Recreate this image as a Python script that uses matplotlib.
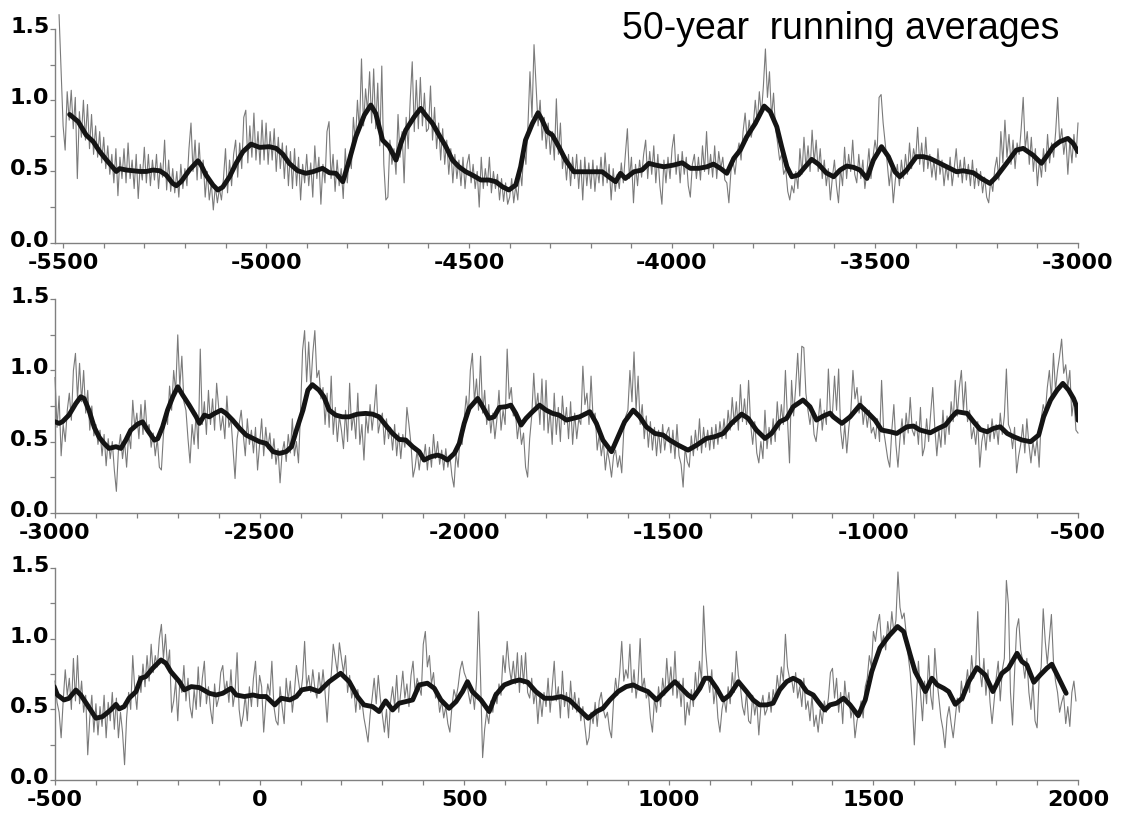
import numpy as np
import matplotlib
matplotlib.use('Agg')
from matplotlib import pyplot as plt
from matplotlib.ticker import MultipleLocator
from matplotlib.transforms import ScaledTranslation

plt.rcParams['axes.unicode_minus'] = False
plt.rcParams['font.family'] = 'DejaVu Sans'

# ---- panel 1 : -5510 .. -3000, annual series sampled every 5 years ----
gray1_start = -5510
gray1 = [
    1.60, 1.20,
    0.82, 0.65, 1.06, 0.86, 1.07, 0.80, 1.02, 0.45, 0.92, 0.74, 1.00, 0.72, 0.97, 0.66, 0.90, 0.62, 0.82, 0.60, 0.78, 0.56,  # -5500
    0.74, 0.52, 0.68, 0.48, 0.62, 0.42, 0.66, 0.33, 0.60, 0.45, 0.66, 0.42, 0.70, 0.45, 0.58, 0.38, 0.62, 0.31, 0.55, 0.44,  # -5400
    0.67, 0.42, 0.62, 0.40, 0.58, 0.44, 0.62, 0.38, 0.56, 0.46, 0.72, 0.37, 0.58, 0.36, 0.52, 0.35, 0.50, 0.32, 0.55, 0.38,  # -5300
    0.52, 0.40, 0.66, 0.84, 0.50, 0.72, 0.44, 0.70, 0.45, 0.58, 0.32, 0.50, 0.30, 0.42, 0.23, 0.40, 0.28, 0.38, 0.30, 0.45,  # -5200
    0.66, 0.35, 0.58, 0.40, 0.62, 0.72, 0.46, 0.70, 0.52, 0.88, 0.93, 0.56, 0.82, 0.60, 0.91, 0.58, 0.78, 0.55, 0.86, 0.58,  # -5100
    0.84, 0.55, 0.78, 0.58, 0.80, 0.50, 0.74, 0.52, 0.70, 0.45, 0.68, 0.40, 0.64, 0.38, 0.66, 0.40, 0.60, 0.30, 0.55, 0.42,  # -5000
    0.62, 0.40, 0.56, 0.32, 0.68, 0.45, 0.60, 0.27, 0.55, 0.42, 0.78, 0.85, 0.45, 0.62, 0.36, 0.58, 0.40, 0.52, 0.31, 0.66,  # -4900
    0.42, 0.62, 0.52, 0.88, 0.70, 1.00, 0.78, 1.29, 0.82, 1.08, 0.92, 1.20, 0.84, 1.22, 0.80, 1.12, 0.68, 1.24, 0.55, 0.30,  # -4800
    0.32, 0.72, 0.55, 0.66, 0.48, 0.90, 0.60, 0.78, 0.42, 0.88, 0.66, 1.00, 1.27, 0.78, 1.14, 0.80, 1.16, 0.82, 1.05, 0.78,  # -4700
    0.80, 1.10, 0.72, 0.95, 0.66, 0.84, 0.58, 0.80, 0.55, 0.72, 0.48, 0.66, 0.42, 0.62, 0.45, 0.58, 0.40, 0.60, 0.38, 0.55,  # -4600
    0.62, 0.42, 0.55, 0.38, 0.50, 0.25, 0.60, 0.38, 0.52, 0.40, 0.60, 0.35, 0.50, 0.38, 0.48, 0.30, 0.45, 0.29, 0.42, 0.27,  # -4500
    0.32, 0.45, 0.28, 0.40, 0.30, 0.52, 0.40, 0.68, 0.55, 0.82, 1.20, 0.88, 1.39, 1.10, 0.82, 1.00, 0.72, 0.88, 0.66, 0.84,  # -4400
    0.62, 0.78, 0.58, 1.01, 0.62, 0.84, 0.52, 0.62, 0.44, 0.62, 0.40, 0.60, 0.45, 0.62, 0.38, 0.58, 0.30, 0.60, 0.40, 0.56,  # -4300
    0.38, 0.58, 0.36, 0.54, 0.42, 0.60, 0.40, 0.63, 0.42, 0.55, 0.30, 0.52, 0.36, 0.48, 0.38, 0.56, 0.42, 0.62, 0.80, 0.45,  # -4200
    0.60, 0.28, 0.55, 0.40, 0.58, 0.46, 0.62, 0.72, 0.45, 0.64, 0.48, 0.68, 0.42, 0.62, 0.40, 0.27, 0.58, 0.42, 0.60, 0.45,  # -4100
    0.66, 0.76, 0.48, 0.62, 0.42, 0.64, 0.48, 0.60, 0.40, 0.32, 0.55, 0.62, 0.45, 0.60, 0.44, 0.68, 0.50, 0.78, 0.48, 0.62,  # -4000
    0.46, 0.68, 0.45, 0.64, 0.52, 0.60, 0.44, 0.42, 0.28, 0.50, 0.58, 0.48, 0.62, 0.70, 0.58, 0.78, 0.91, 0.72, 0.86, 0.74,  # -3900
    0.82, 1.00, 0.84, 1.06, 0.90, 1.10, 1.36, 1.02, 1.20, 0.88, 1.05, 0.80, 0.70, 0.58, 0.62, 0.48, 0.52, 0.36, 0.30, 0.40,  # -3800
    0.35, 0.50, 0.38, 0.66, 0.48, 0.74, 0.52, 0.68, 0.50, 0.79, 0.56, 0.72, 0.50, 0.66, 0.45, 0.58, 0.40, 0.52, 0.30, 0.46,  # -3700
    0.58, 0.40, 0.28, 0.52, 0.40, 0.67, 0.45, 0.62, 0.50, 0.72, 0.48, 0.42, 0.62, 0.45, 0.58, 0.38, 0.50, 0.66, 0.45, 0.60,  # -3600
    0.72, 0.62, 1.02, 1.04, 0.84, 0.70, 0.56, 0.40, 0.52, 0.28, 0.44, 0.55, 0.40, 0.58, 0.45, 0.62, 0.48, 0.70, 0.52, 0.66,  # -3500
    0.58, 0.81, 0.55, 0.70, 0.50, 0.74, 0.52, 0.62, 0.46, 0.58, 0.44, 0.66, 0.48, 0.58, 0.40, 0.54, 0.44, 0.60, 0.40, 0.52,  # -3400
    0.66, 0.46, 0.58, 0.42, 0.60, 0.44, 0.55, 0.40, 0.58, 0.38, 0.52, 0.40, 0.50, 0.35, 0.46, 0.32, 0.28, 0.44, 0.36, 0.52,  # -3300
    0.60, 0.44, 0.78, 0.56, 0.86, 0.60, 0.76, 0.55, 0.72, 0.52, 0.70, 0.62, 0.80, 1.02, 0.66, 0.78, 0.55, 0.74, 0.50, 0.66,  # -3200
    0.40, 0.58, 0.46, 0.66, 0.50, 0.76, 0.56, 0.70, 0.60, 0.78, 1.02, 0.70, 0.80, 0.62, 0.74, 0.48, 0.72, 0.56, 0.76, 0.60,  # -3100
    0.84,
]
run1_years = [-5484, -5463, -5443, -5426, -5410, -5393, -5369, -5361, -5344, -5328, -5311, -5295, -5279, -5262,
              -5246, -5230, -5221, -5209, -5189, -5168, -5160, -5148, -5131, -5119, -5107, -5090, -5074, -5057,
              -5037, -5016, -4992, -4975, -4959, -4943, -4922, -4902, -4885, -4861, -4844, -4828, -4811, -4795,
              -4779, -4758, -4742, -4730, -4713, -4697, -4680, -4668, -4656, -4635, -4619, -4607, -4590, -4574,
              -4557, -4541, -4525, -4508, -4492, -4471, -4451, -4434, -4418, -4402, -4385, -4373, -4361, -4344,
              -4330, -4320, -4307, -4295, -4279, -4262, -4242, -4217, -4193, -4172, -4156, -4139, -4127, -4115,
              -4094, -4074, -4057, -4041, -4020, -3996, -3975, -3955, -3934, -3914, -3898, -3881, -3865, -3848,
              -3832, -3816, -3795, -3773, -3758, -3742, -3730, -3717, -3705, -3689, -3672, -3656, -3639, -3620,
              -3602, -3586, -3570, -3553, -3537, -3520, -3504, -3484, -3467, -3451, -3439, -3422, -3398, -3381,
              -3365, -3340, -3316, -3299, -3283, -3258, -3238, -3217, -3201, -3176, -3152, -3135, -3111, -3090,
              -3078, -3061, -3045, -3025, -3012, -3000]
run1 = [0.90, 0.85, 0.755, 0.71, 0.64, 0.58, 0.50, 0.52, 0.51, 0.505, 0.50, 0.50, 0.51, 0.505,
        0.475, 0.416, 0.40, 0.43, 0.51, 0.575, 0.545, 0.475, 0.405, 0.37, 0.39, 0.463, 0.557, 0.639,
        0.692, 0.669, 0.674, 0.662, 0.622, 0.557, 0.505, 0.487, 0.498, 0.522, 0.491, 0.487, 0.428, 0.58,
        0.744, 0.896, 0.966, 0.908, 0.72, 0.674, 0.58, 0.697, 0.79, 0.884, 0.943, 0.896, 0.837, 0.756,
        0.674, 0.58, 0.533, 0.498, 0.475, 0.44, 0.44, 0.428, 0.393, 0.37, 0.405, 0.533, 0.72, 0.837,
        0.912, 0.861, 0.779, 0.756, 0.674, 0.58, 0.498, 0.498, 0.498, 0.498, 0.463, 0.428, 0.487, 0.451,
        0.498, 0.51, 0.557, 0.545, 0.533, 0.545, 0.561, 0.522, 0.522, 0.533, 0.552, 0.522, 0.487, 0.592,
        0.65, 0.744, 0.837, 0.959, 0.919, 0.814, 0.674, 0.533, 0.463, 0.475, 0.533, 0.585, 0.55, 0.49,
        0.463, 0.51, 0.538, 0.529, 0.51, 0.451, 0.58, 0.674, 0.604, 0.498, 0.463, 0.51, 0.604, 0.604,
        0.592, 0.557, 0.522, 0.498, 0.505, 0.491, 0.451, 0.416, 0.463, 0.557, 0.65, 0.662, 0.615, 0.557,
        0.604, 0.674, 0.709, 0.732, 0.697, 0.639]

# ---- panel 2 : -3000 .. -500 ----
gray2_start = -3000
gray2 = [
    0.95, 0.60, 0.82, 0.40, 0.62, 0.50, 0.72, 0.84, 0.65, 1.00, 1.12, 0.80, 1.05, 0.78, 1.00, 0.70, 0.86, 0.58, 0.75, 0.54,  # -3000
    0.62, 0.48, 0.58, 0.40, 0.55, 0.33, 0.52, 0.38, 0.50, 0.30, 0.15, 0.44, 0.55, 0.38, 0.50, 0.32, 0.55, 0.45, 0.79, 0.60,  # -2900
    0.70, 0.52, 0.76, 0.55, 0.79, 0.58, 0.62, 0.46, 0.56, 0.40, 0.52, 0.32, 0.30, 0.55, 0.70, 0.62, 0.89, 0.72, 1.00, 0.85,  # -2800
    1.25, 0.88, 1.10, 0.78, 0.72, 0.52, 0.35, 0.62, 0.48, 0.70, 0.45, 1.15, 0.62, 0.78, 0.55, 0.86, 0.62, 0.80, 0.58, 0.91,  # -2700
    0.74, 0.58, 0.68, 0.52, 0.82, 0.60, 0.66, 0.45, 0.24, 0.52, 0.62, 0.72, 0.55, 0.40, 0.66, 0.48, 0.58, 0.42, 0.60, 0.30,  # -2600
    0.48, 0.66, 0.40, 0.60, 0.45, 0.56, 0.38, 0.52, 0.34, 0.45, 0.21, 0.42, 0.50, 0.36, 0.55, 0.42, 0.66, 0.40, 0.50, 0.35,  # -2500
    0.70, 1.14, 1.28, 0.92, 1.20, 0.88, 1.12, 1.28, 0.95, 1.00, 0.80, 0.88, 0.62, 0.84, 0.60, 0.96, 0.55, 0.74, 0.50, 0.68,  # -2400
    0.58, 0.45, 0.72, 0.50, 0.91, 0.58, 0.70, 0.52, 0.84, 0.48, 0.62, 0.37, 0.68, 0.56, 0.76, 0.58, 0.72, 0.90, 0.56, 0.64,  # -2300
    0.70, 0.48, 0.66, 0.52, 0.60, 0.44, 0.62, 0.40, 0.56, 0.38, 0.55, 0.46, 0.74, 0.62, 0.48, 0.25, 0.32, 0.44, 0.30, 0.42,  # -2200
    0.36, 0.48, 0.30, 0.46, 0.32, 0.55, 0.38, 0.50, 0.34, 0.44, 0.30, 0.45, 0.32, 0.40, 0.26, 0.18, 0.42, 0.32, 0.54, 0.48,  # -2100
    0.66, 0.82, 0.68, 1.00, 1.12, 0.78, 0.94, 0.72, 1.10, 0.70, 0.86, 0.62, 0.76, 0.56, 0.70, 0.52, 0.66, 0.86, 0.58, 0.72,  # -2000
    0.62, 1.15, 0.80, 0.88, 0.68, 0.72, 0.52, 0.64, 0.48, 0.56, 0.32, 0.25, 0.52, 0.68, 0.98, 0.72, 0.84, 0.62, 0.94, 0.58,  # -1900
    0.93, 0.56, 0.72, 0.48, 0.84, 0.55, 0.74, 0.50, 0.82, 0.62, 0.74, 0.52, 0.78, 0.48, 0.70, 0.52, 0.66, 0.62, 1.03, 0.76,  # -1800
    0.84, 0.62, 0.96, 0.66, 0.70, 0.44, 0.55, 0.40, 0.50, 0.30, 0.44, 0.36, 0.25, 0.40, 0.44, 0.32, 0.40, 0.28, 0.58, 0.68,  # -1700
    0.72, 1.00, 0.78, 1.13, 0.72, 0.96, 0.62, 0.76, 0.52, 0.68, 0.46, 0.64, 0.44, 0.60, 0.40, 0.58, 0.42, 0.62, 0.44, 0.56,  # -1600
    0.60, 0.42, 0.58, 0.38, 0.62, 0.40, 0.34, 0.18, 0.46, 0.36, 0.32, 0.54, 0.40, 0.58, 0.44, 0.66, 0.42, 0.60, 0.46, 0.58,  # -1500
    0.44, 0.60, 0.45, 0.62, 0.48, 0.64, 0.52, 0.66, 0.52, 0.72, 0.58, 0.81, 0.62, 0.78, 0.58, 0.90, 0.64, 0.80, 0.62, 0.93,  # -1400
    0.62, 0.48, 0.64, 0.42, 0.35, 0.50, 0.38, 0.72, 0.45, 0.60, 0.48, 0.66, 0.50, 0.78, 0.58, 0.76, 0.62, 1.00, 0.66, 0.35,  # -1300
    0.93, 0.68, 0.88, 1.12, 0.82, 1.17, 1.16, 0.84, 0.72, 0.62, 0.74, 0.55, 0.50, 0.64, 0.80, 0.58, 0.72, 0.62, 1.01, 0.70,  # -1200
    0.70, 0.96, 0.72, 1.01, 0.58, 0.45, 0.62, 0.42, 0.60, 0.72, 1.00, 0.80, 0.88, 0.70, 0.82, 0.62, 0.74, 0.60, 0.72, 0.56,  # -1100
    0.60, 0.52, 0.66, 0.50, 0.93, 0.58, 0.48, 0.38, 0.32, 0.58, 0.76, 0.48, 0.32, 0.52, 0.66, 0.48, 0.70, 0.56, 0.81, 0.58,  # -1000
    0.54, 0.64, 0.48, 0.74, 0.40, 0.46, 0.66, 0.50, 0.70, 0.88, 0.60, 0.40, 0.58, 0.46, 0.72, 0.48, 0.68, 0.55, 0.78, 0.64,  # -900
    0.93, 0.68, 0.88, 1.00, 0.72, 0.92, 0.64, 0.72, 0.52, 0.60, 0.48, 0.64, 0.32, 0.50, 0.58, 0.44, 0.62, 0.50, 0.66, 0.52,  # -800
    0.62, 0.48, 0.70, 0.55, 0.68, 1.01, 0.62, 0.58, 0.45, 0.60, 0.28, 0.40, 0.48, 0.62, 0.42, 0.66, 0.48, 0.35, 0.50, 0.40,  # -700
    0.52, 0.32, 0.66, 0.76, 0.70, 0.88, 1.00, 0.80, 1.12, 0.86, 1.00, 1.10, 1.22, 0.98, 1.04, 0.88, 1.00, 0.68, 0.80, 0.58,  # -600
    0.56,
]
run2_years = [-3000, -2990, -2982, -2966, -2949, -2937, -2929, -2917, -2904, -2892, -2880, -2868, -2851, -2839,
              -2827, -2815, -2798, -2786, -2774, -2757, -2749, -2737, -2725, -2712, -2700, -2688, -2672, -2655,
              -2647, -2635, -2623, -2610, -2594, -2582, -2566, -2549, -2533, -2516, -2500, -2484, -2467, -2451,
              -2435, -2422, -2410, -2394, -2382, -2371, -2355, -2343, -2330, -2314, -2298, -2281, -2261, -2241,
              -2224, -2208, -2192, -2175, -2159, -2143, -2126, -2110, -2098, -2082, -2065, -2053, -2041, -2024,
              -2012, -2000, -1988, -1967, -1955, -1939, -1927, -1914, -1898, -1886, -1874, -1861, -1849, -1833,
              -1816, -1800, -1784, -1768, -1750, -1734, -1718, -1693, -1677, -1661, -1640, -1624, -1608, -1587,
              -1571, -1555, -1534, -1514, -1498, -1477, -1453, -1432, -1408, -1388, -1367, -1347, -1322, -1306,
              -1286, -1265, -1249, -1229, -1212, -1196, -1172, -1155, -1139, -1122, -1106, -1098, -1077, -1057,
              -1033, -1012, -996, -980, -959, -943, -918, -902, -886, -861, -841, -824, -808, -796,
              -771, -755, -739, -722, -706, -690, -673, -657, -637, -616, -596, -584, -567, -551,
              -537, -523, -511, -503, -500]
run2 = [0.639, 0.628, 0.639, 0.686, 0.768, 0.815, 0.803, 0.72, 0.60, 0.53, 0.487, 0.452, 0.464, 0.452,
        0.51, 0.58, 0.623, 0.639, 0.58, 0.51, 0.52, 0.604, 0.721, 0.815, 0.885, 0.827, 0.756, 0.674,
        0.628, 0.686, 0.674, 0.698, 0.721, 0.698, 0.651, 0.593, 0.546, 0.522, 0.499, 0.487, 0.429, 0.417,
        0.429, 0.464, 0.58, 0.721, 0.862, 0.90, 0.862, 0.815, 0.721, 0.686, 0.674, 0.674, 0.693, 0.698,
        0.693, 0.674, 0.616, 0.557, 0.515, 0.511, 0.464, 0.429, 0.37, 0.393, 0.405, 0.393, 0.37, 0.417,
        0.487, 0.628, 0.733, 0.803, 0.745, 0.663, 0.674, 0.74, 0.745, 0.756, 0.698, 0.616, 0.663, 0.71,
        0.756, 0.721, 0.698, 0.686, 0.651, 0.663, 0.674, 0.71, 0.628, 0.51, 0.429, 0.534, 0.639, 0.721,
        0.674, 0.604, 0.557, 0.546, 0.511, 0.475, 0.44, 0.475, 0.522, 0.534, 0.557, 0.628, 0.693, 0.663,
        0.581, 0.522, 0.557, 0.639, 0.663, 0.745, 0.792, 0.745, 0.651, 0.68, 0.70, 0.674, 0.628, 0.674,
        0.756, 0.698, 0.651, 0.581, 0.569, 0.557, 0.604, 0.609, 0.581, 0.562, 0.593, 0.616, 0.674, 0.71,
        0.698, 0.639, 0.585, 0.569, 0.593, 0.604, 0.557, 0.534, 0.511, 0.499, 0.546, 0.674, 0.792, 0.862,
        0.909, 0.862, 0.803, 0.745, 0.65]

# ---- panel 3 : -500 .. 2000 ----
gray3_start = -500
gray3 = [
    0.70, 0.55, 0.48, 0.30, 0.56, 0.78, 0.60, 0.72, 0.50, 0.86, 0.56, 0.88, 0.54, 0.70, 0.48, 0.60, 0.18, 0.44, 0.60, 0.34,  # -500
    0.54, 0.32, 0.52, 0.38, 0.60, 0.30, 0.55, 0.42, 0.62, 0.36, 0.58, 0.30, 0.48, 0.34, 0.11, 0.44, 0.62, 0.50, 0.88, 0.64,  # -400
    0.50, 0.74, 0.62, 0.82, 0.66, 0.88, 0.70, 0.96, 0.76, 0.88, 0.80, 1.00, 1.10, 0.86, 1.03, 0.80, 0.92, 0.48, 0.56, 0.70,  # -300
    0.42, 0.70, 0.62, 0.81, 0.56, 0.72, 0.52, 0.44, 0.64, 0.50, 0.80, 0.52, 0.72, 0.84, 0.54, 0.66, 0.50, 0.40, 0.68, 0.52,  # -200
    0.58, 0.76, 0.81, 0.62, 0.70, 0.55, 0.78, 0.52, 0.62, 0.90, 0.50, 0.38, 0.46, 0.60, 0.42, 0.66, 0.52, 0.72, 0.84, 0.52,  # -100
    0.74, 0.66, 0.34, 0.55, 0.68, 0.60, 0.84, 0.52, 0.42, 0.39, 0.66, 0.52, 0.40, 0.72, 0.56, 0.70, 0.48, 0.62, 0.81, 0.70,  # 0
    0.60, 0.72, 0.98, 0.66, 0.74, 0.62, 0.78, 0.65, 0.58, 0.76, 0.62, 0.78, 0.62, 0.41, 0.66, 0.74, 0.96, 0.86, 0.76, 0.97,  # 100
    0.86, 0.76, 0.88, 0.62, 0.74, 0.58, 0.66, 0.48, 0.64, 0.50, 0.56, 0.44, 0.36, 0.27, 0.46, 0.58, 0.72, 0.54, 0.74, 0.58,  # 200
    0.46, 0.34, 0.50, 0.30, 0.55, 0.66, 0.52, 0.74, 0.48, 0.62, 0.77, 0.58, 0.68, 0.52, 0.74, 0.84, 0.62, 0.72, 0.66, 0.60,  # 300
    0.96, 1.05, 0.80, 0.88, 0.68, 0.76, 0.58, 0.62, 0.48, 0.56, 0.44, 0.52, 0.40, 0.34, 0.52, 0.64, 0.58, 0.66, 0.78, 0.84,  # 400
    0.76, 0.72, 0.62, 0.54, 0.64, 0.50, 0.70, 1.19, 0.72, 0.16, 0.36, 0.48, 0.40, 0.56, 0.48, 0.62, 0.54, 0.68, 0.60, 0.88,  # 500
    0.76, 0.98, 0.80, 0.70, 0.84, 0.68, 0.90, 0.62, 0.88, 0.68, 0.90, 0.62, 0.58, 0.72, 0.54, 0.64, 0.40, 0.60, 0.45, 0.62,  # 600
    0.52, 0.72, 0.48, 0.66, 0.84, 0.56, 0.66, 0.44, 0.77, 0.52, 0.62, 0.44, 0.70, 0.50, 0.62, 0.48, 0.58, 0.42, 0.52, 0.38,  # 700
    0.25, 0.30, 0.48, 0.40, 0.55, 0.38, 0.56, 0.62, 0.50, 0.44, 0.48, 0.36, 0.30, 0.56, 0.72, 0.60, 0.76, 0.98, 0.70, 0.78,  # 800
    0.72, 0.96, 0.62, 0.78, 0.58, 0.70, 1.00, 0.64, 0.72, 0.58, 0.62, 0.44, 0.34, 0.58, 0.48, 0.66, 0.52, 0.72, 0.60, 0.86,  # 900
    0.64, 0.80, 0.60, 0.91, 0.58, 0.70, 0.52, 0.72, 0.39, 0.55, 0.46, 0.64, 0.52, 0.76, 0.60, 0.84, 0.70, 1.23, 0.92, 0.74,  # 1000
    0.62, 0.78, 0.54, 0.66, 0.44, 0.34, 0.50, 0.58, 0.48, 0.66, 0.54, 0.76, 0.62, 0.91, 0.74, 0.66, 0.52, 0.46, 0.62, 0.42,  # 1100
    0.40, 0.60, 0.46, 0.56, 0.32, 0.52, 0.60, 0.46, 0.50, 0.62, 0.48, 0.64, 0.56, 0.74, 0.62, 0.80, 0.70, 1.03, 0.80, 0.72,  # 1200
    0.72, 0.62, 0.76, 0.58, 0.66, 0.52, 0.72, 0.50, 0.56, 0.42, 0.60, 0.38, 0.46, 0.34, 0.50, 0.40, 0.56, 0.48, 0.58, 0.76,  # 1300
    0.79, 0.58, 0.72, 0.48, 0.62, 0.40, 0.70, 0.54, 0.62, 0.44, 0.52, 0.30, 0.42, 0.48, 0.56, 0.44, 0.66, 0.72, 0.88, 0.80,  # 1400
    1.05, 0.98, 1.10, 1.17, 0.96, 1.02, 0.92, 1.12, 1.00, 1.19, 1.04, 1.13, 1.47, 1.22, 1.14, 1.18, 1.04, 0.88, 0.76, 0.55,  # 1500
    0.25, 0.56, 0.84, 0.62, 0.42, 0.70, 0.54, 0.88, 0.60, 0.50, 0.93, 0.72, 0.58, 0.44, 0.36, 0.23, 0.44, 0.52, 0.40, 0.30,  # 1600
    0.44, 0.58, 0.48, 0.70, 0.56, 0.66, 0.78, 0.62, 0.88, 0.72, 0.80, 1.19, 0.78, 0.66, 0.86, 0.60, 0.78, 0.55, 0.40, 0.56,  # 1700
    0.72, 0.84, 0.56, 0.78, 0.86, 1.41, 1.24, 0.62, 0.39, 0.76, 1.07, 1.14, 0.92, 0.84, 0.72, 0.86, 0.62, 0.50, 0.70, 0.42,  # 1800
    0.37, 0.72, 0.80, 1.21, 0.98, 0.82, 1.00, 1.17, 0.84, 0.70, 0.62, 0.48, 0.55, 0.60, 0.40, 0.52, 0.38, 0.62, 0.70, 0.56,  # 1900
]
run3_years = [-502, -494, -478, -466, -449, -437, -421, -400, -384, -364, -351, -343, -331, -319, -302, -290,
              -278, -261, -241, -229, -217, -196, -184, -167, -147, -123, -106, -90, -70, -57, -37, -16,
              0, 16, 37, 53, 74, 90, 103, 123, 145, 170, 198, 219, 239, 255, 276, 292, 308, 325, 341, 357,
              374, 390, 410, 427, 443, 463, 480, 496, 508, 520, 541, 561, 577, 598, 618, 635, 655, 675,
              696, 716, 737, 757, 782, 803, 823, 839, 856, 876, 896, 913, 929, 949, 970, 986, 1002, 1015,
              1031, 1047, 1059, 1076, 1088, 1100, 1117, 1133, 1149, 1170, 1190, 1206, 1222, 1239, 1255,
              1271, 1288, 1304, 1320, 1337, 1353, 1365, 1381, 1394, 1410, 1427, 1443, 1463, 1480, 1496,
              1516, 1537, 1559, 1574, 1590, 1602, 1615, 1627, 1643, 1656, 1672, 1684, 1700, 1717, 1733,
              1753, 1773, 1792, 1814, 1830, 1851, 1863, 1875, 1892, 1908, 1924, 1936, 1949, 1961, 1971]
run3 = [0.661, 0.602, 0.567, 0.578, 0.637, 0.602, 0.532, 0.438, 0.449, 0.496, 0.536, 0.504, 0.52, 0.579, 0.626, 0.72,
        0.732, 0.791, 0.849, 0.826, 0.767, 0.696, 0.638, 0.661, 0.654, 0.614, 0.602, 0.614, 0.649, 0.602, 0.591, 0.602,
        0.591, 0.591, 0.532, 0.579, 0.567, 0.591, 0.638, 0.649, 0.626, 0.696, 0.755, 0.696, 0.591, 0.532, 0.52, 0.485,
        0.56, 0.496, 0.544, 0.555, 0.567, 0.673, 0.685, 0.649, 0.567, 0.508, 0.555, 0.626, 0.696, 0.626, 0.567, 0.485,
        0.602, 0.673, 0.696, 0.708, 0.692, 0.626, 0.579, 0.579, 0.591, 0.567, 0.496, 0.438, 0.485, 0.508, 0.567, 0.626,
        0.661, 0.673, 0.649, 0.626, 0.567, 0.614, 0.661, 0.696, 0.649, 0.602, 0.579, 0.649, 0.72, 0.72, 0.649, 0.567,
        0.602, 0.696, 0.626, 0.567, 0.532, 0.532, 0.544, 0.638, 0.696, 0.72, 0.696, 0.626, 0.602, 0.555, 0.496, 0.532,
        0.544, 0.579, 0.532, 0.456, 0.567, 0.767, 0.934, 1.016, 1.085, 1.049, 0.885, 0.767, 0.696, 0.626, 0.72, 0.673,
        0.649, 0.626, 0.536, 0.579, 0.696, 0.795, 0.744, 0.626, 0.755, 0.791, 0.896, 0.838, 0.814, 0.692, 0.744,
        0.791, 0.819, 0.744, 0.673, 0.614]

FIG_W, FIG_H = 1125, 817
panels = [
    dict(rect=[55, 242.7, 1078, 29.0], xlim=(-5520, -3000), ticks=(-5500, -3000),
         gstart=gray1_start, gray=gray1, ryears=run1_years, run=run1),
    dict(rect=[55, 512.7, 1078, 299.3], xlim=(-3000, -500), ticks=(-3000, -500),
         gstart=gray2_start, gray=gray2, ryears=run2_years, run=run2),
    dict(rect=[55, 780.3, 1078, 567.7], xlim=(-500, 2000), ticks=(-500, 2000),
         gstart=gray3_start, gray=gray3, ryears=run3_years, run=run3),
]
axis_gray = '#808080'


def main():
    fig = plt.figure(figsize=(FIG_W / 100, FIG_H / 100), dpi=100)
    lift = ScaledTranslation(0, 4 / 100, fig.dpi_scale_trans)  # y labels sit a bit above their ticks

    for p in panels:
        x0, yb, x1, yt = p['rect']
        ax = fig.add_axes([x0 / FIG_W, 1 - yb / FIG_H, (x1 - x0) / FIG_W, (yb - yt) / FIG_H])
        gy = p['gstart'] + 5 * np.arange(len(p['gray']))
        ax.plot(gy, p['gray'], color='#7a7a7a', lw=0.8, clip_on=False, zorder=2)
        ax.plot(p['ryears'], p['run'], color='#141414', lw=3.5, solid_capstyle='round',
                solid_joinstyle='round', zorder=3)

        ax.set_xlim(*p['xlim'])
        ax.set_ylim(0, 1.5)
        majors = np.arange(p['ticks'][0], p['ticks'][1] + 1, 500)
        ax.set_xticks(majors)
        ax.set_xticklabels([str(int(v)) for v in majors])
        ax.xaxis.set_minor_locator(MultipleLocator(100))
        ax.set_yticks([0, 0.5, 1.0, 1.5])
        ax.set_yticklabels(['0.0', '0.5', '1.0', '1.5'])
        ax.yaxis.set_minor_locator(MultipleLocator(0.25))

        for s in ['top', 'right']:
            ax.spines[s].set_visible(False)
        for s in ['left', 'bottom']:
            ax.spines[s].set_color(axis_gray)
            ax.spines[s].set_linewidth(1.0)
        ax.tick_params(axis='both', which='both', direction='out', color=axis_gray,
                       width=0.9, length=3.6)
        ax.tick_params(axis='x', which='major', labelsize=16, pad=3.5)
        ax.tick_params(axis='y', which='major', labelsize=16, pad=0.5)
        for lab in ax.get_xticklabels() + ax.get_yticklabels():
            lab.set_fontweight('bold')
        for t in ax.yaxis.get_major_ticks():
            t.label1.set_transform(t.label1.get_transform() + lift)
        ax.patch.set_alpha(0)

    fig.text(622 / FIG_W, 1 - 39 / FIG_H, '50-year  running averages', fontsize=27,
             family='Liberation Sans', va='baseline', ha='left')

    fig.savefig('out.png', dpi=100)
    plt.close()


if __name__ == '__main__':
    main()
